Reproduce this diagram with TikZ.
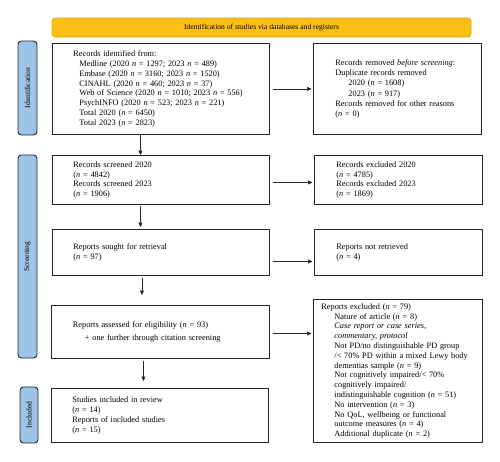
\documentclass[tikz,border=0pt]{standalone}
\usepackage{fontspec}
\setmainfont{Liberation Serif}
\usetikzlibrary{arrows.meta}
\definecolor{banyel}{HTML}{FCBF14}
\definecolor{banbord}{HTML}{D9A21A}
\definecolor{labblue}{HTML}{9DC3E6}
\definecolor{labbord}{HTML}{1E2A38}
\newcommand{\nn}{\textit{n}}
\begin{document}
\begin{tikzpicture}[x=1pt,y=-1pt,
  box/.style={draw=black!85,line width=0.9pt,anchor=north west,inner ysep=0pt,align=left,font=\fontsize{8.3}{9.8}\selectfont},
  wbox/.style={box,inner xsep=21pt,text width=175pt,minimum width=217pt},
  rbox/.style={box,inner xsep=22pt,text width=124pt,minimum width=168pt},
  lab/.style={draw=labbord,line width=0.9pt,fill=labblue,rounded corners=3.5pt,rotate=90,inner sep=0pt,font=\fontsize{7.5}{9}\selectfont},
  arr/.style={-{Triangle[length=4.5pt,width=4pt]},line width=0.6pt,black!85}
]
\useasboundingbox (0,0) rectangle (500,461);

\node[draw=banbord,line width=0.6pt,fill=banyel,rounded corners=3pt,minimum width=419pt,minimum height=19pt,inner sep=0pt,font=\fontsize{7.6}{9}\selectfont] (ban) at (261.5,27.5) {Identification of studies via databases and registers};

\node[lab,minimum width=94pt,minimum height=19pt] (idl) at (27.5,88) {Identification};
\node[lab,minimum width=203pt,minimum height=19pt] (scl) at (27.5,256.5) {Screening};
\node[lab,minimum width=56pt,minimum height=18pt] (inl) at (29,415) {Included};

\node[wbox,minimum height=91pt] (b1) at (52,43) {Records identified from:\\
\hspace*{6pt}Medline (2020 \nn{} = 1297; 2023 \nn{} = 489)\\
\hspace*{6pt}Embase (2020 \nn{} = 3160; 2023 \nn{} = 1520)\\
\hspace*{6pt}CINAHL (2020 \nn{} = 460; 2023 \nn{} = 37)\\
\hspace*{6pt}Web of Science (2020 \nn{} = 1010; 2023 \nn{} = 556)\\
\hspace*{6pt}PsychINFO (2020 \nn{} = 523; 2023 \nn{} = 221)\\
\hspace*{6pt}Total 2020 (\nn{} = 6450)\\
\hspace*{6pt}Total 2023 (\nn{} = 2823)};

\node[rbox,minimum height=91pt,font=\fontsize{8.3}{10.3}\selectfont] (rb1) at (313,43) {Records removed \textit{before screening}:\\
Duplicate records removed\\
\hspace*{13pt}2020 (\nn{} = 1608)\\
\hspace*{13pt}2023 (\nn{} = 917)\\
Records removed for other reasons\\
(\nn{} = 0)};

\node[wbox,minimum height=49pt] (b2) at (52,155) {Records screened 2020\\
(\nn{} = 4842)\\
Records screened 2023\\
(\nn{} = 1906)};

\node[rbox,minimum height=49pt] (rb2) at (314,155) {Records excluded 2020\\
(\nn{} = 4785)\\
Records excluded 2023\\
(\nn{} = 1869)};

\node[wbox,minimum height=46pt] (b3) at (52,229) {Reports sought for retrieval\\
(\nn{} = 97)};

\node[rbox,minimum height=46pt] (rb3) at (314,229) {Reports not retrieved\\
(\nn{} = 4)};

\node[wbox,minimum width=218pt,minimum height=53pt] (b4) at (51,305) {Reports assessed for eligibility (\nn{} = 93)\\[4pt]
\hspace*{12pt}+ one further through citation screening};

\node[box,inner xsep=8pt,text width=153pt,minimum width=169pt,minimum height=143pt] (rb4) at (313,299) {Reports excluded (\nn{} = 79)\\
\hspace*{13pt}Nature of article (\nn{} = 8)\\
\hspace*{13pt}\textit{Case report or case series,}\\
\hspace*{13pt}\textit{commentary, protocol}\\
\hspace*{13pt}Not PD/no distinguishable PD group\\
\hspace*{13pt}/< 70\% PD within a mixed Lewy body\\
\hspace*{13pt}dementias sample (\nn{} = 9)\\
\hspace*{13pt}Not cognitively impaired/< 70\%\\
\hspace*{13pt}cognitively impaired/\\
\hspace*{13pt}indistinguishable cognition (\nn{} = 51)\\
\hspace*{13pt}No intervention (\nn{} = 3)\\
\hspace*{13pt}No QoL, wellbeing or functional\\
\hspace*{13pt}outcome measures (\nn{} = 4)\\
\hspace*{13pt}Additional duplicate (\nn{} = 2)};

\node[wbox,minimum height=54pt,font=\fontsize{8.3}{10.3}\selectfont] (b5) at (51,388) {Studies included in review\\
(\nn{} = 14)\\
Reports of included studies\\
(\nn{} = 15)};

% horizontal arrows
\draw[arr,shorten <=3pt,shorten >=1.5pt] (b1.east) -- (rb1.west);
\draw[arr,shorten <=3pt,shorten >=1.5pt] ([yshift=-2.5pt]b2.east) -- ([yshift=-2.5pt]b2.east -| rb2.west);
\draw[arr,shorten <=3pt,shorten >=1.5pt] ([yshift=-9pt]b3.east) -- ([yshift=-9pt]b3.east -| rb3.west);
\draw[arr,shorten <=3pt,shorten >=1.5pt] ([yshift=-1.5pt]b4.east) -- ([yshift=-1.5pt]b4.east -| rb4.west);

% vertical arrows
\draw[arr,shorten <=0.5pt] ([xshift=-20.5pt]b1.south) -- ([xshift=-20.5pt]b1.south |- b2.north);
\draw[arr,shorten <=1pt,shorten >=2pt] ([xshift=-20.5pt]b2.south) -- ([xshift=-20.5pt]b2.south |- b3.north);
\draw[arr,shorten <=2pt,shorten >=10pt] ([xshift=-19pt]b3.south) -- ([xshift=-19pt]b3.south |- b4.north);
\draw[arr,shorten <=2pt,shorten >=7pt] ([xshift=-17pt]b4.south) -- ([xshift=-17pt]b4.south |- b5.north);
\end{tikzpicture}
\end{document}
